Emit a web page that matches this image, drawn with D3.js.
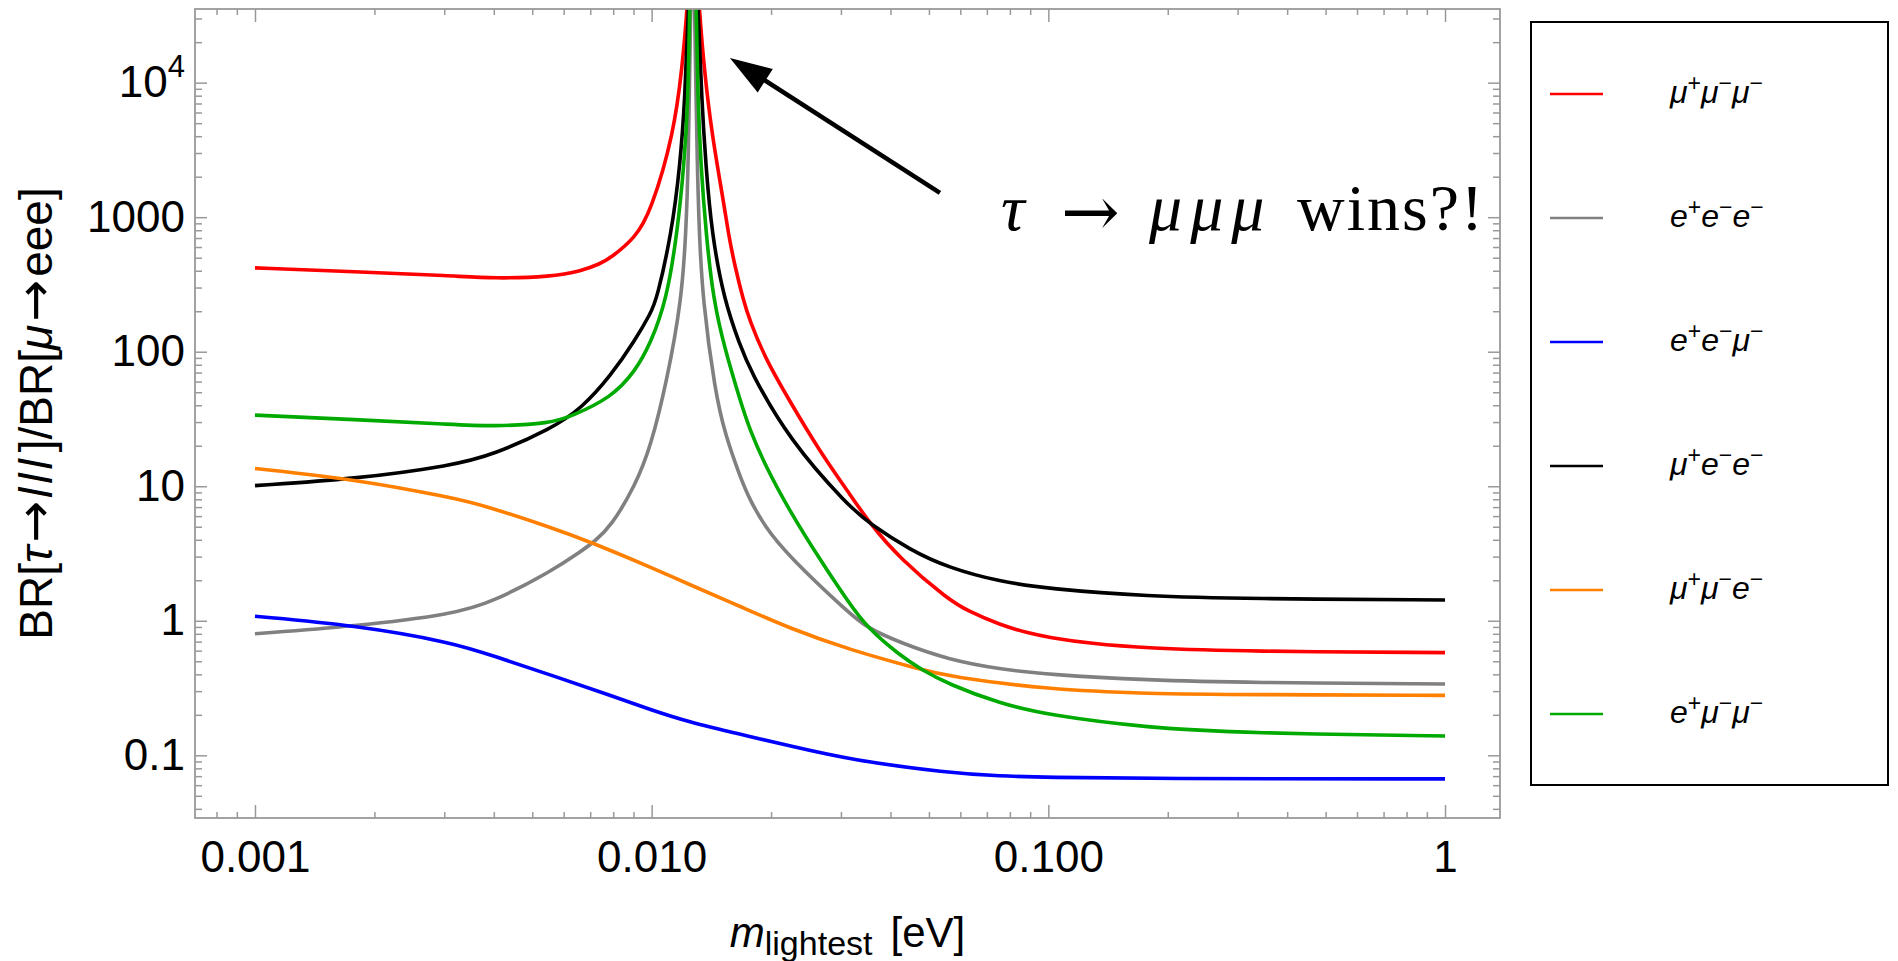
<!DOCTYPE html>
<html>
<head>
<meta charset="utf-8">
<script src="https://cdn.jsdelivr.net/npm/d3@7"></script>
<style>
  body { margin: 0; background: #fff; }
  svg { display: block; font-family: "Liberation Sans", Arial, sans-serif; }
</style>
</head>
<body>
<svg id="chart" width="1898" height="961"></svg>
<script>
// ---------------- data ----------------
const xMajorTicks = [0.001, 0.01, 0.1, 1];
const xTickLabels = ["0.001", "0.010", "0.100", "1"];
const yMajorTicks = [0.1, 1, 10, 100, 1000, 10000];
const yTickLabels = ["0.1", "1", "10", "100", "1000", "10^4"];

const seriesNames = ["μ+μ−μ−", "e+e−e−", "e+e−μ−", "μ+e−e−", "μ+μ−e−", "e+μ−μ−"];
const seriesColors = ["#ff0000", "#808080", "#0000ff", "#000000", "#ff8000", "#00aa00"];

// [m_lightest (eV), BR(tau->lll)/BR(mu->eee)]
const muMuMu = [[0.001,420],[0.001778,394],[0.003162,367],[0.003974,350],[0.00559,360],[0.006662,399],[0.007409,450],[0.007889,499],[0.009088,701],[0.00995,1094],[0.011381,4207],[0.011942,13150],[0.0123,35000],[0.0127,200000],[0.013183,35000],[0.013546,13150],[0.014167,4207],[0.015155,1343],[0.015601,760],[0.016218,430],[0.017019,243],[0.017673,169.7],[0.0193,90.1],[0.022182,43.9],[0.026573,18.04],[0.031404,8.95],[0.035506,5.27],[0.042275,2.89],[0.055993,1.435],[0.062736,1.181],[0.075549,0.932],[0.089415,0.807],[0.1,0.753],[0.12738,0.677],[0.17783,0.625],[0.31623,0.592],[1,0.580]];
const eee = [[0.001,0.80],[0.001778,0.91],[0.003162,1.12],[0.003974,1.38],[0.00559,2.336],[0.006662,3.31],[0.007163,3.87],[0.007889,5.0],[0.009088,10.09],[0.00995,19.66],[0.010942,61.8],[0.011901,243],[0.012201,764],[0.012372,2377],[0.012531,35000],[0.0127,200000],[0.012829,35000],[0.013028,2377],[0.013183,764],[0.013446,243],[0.014447,50.6],[0.015311,24.4],[0.016697,11.83],[0.017673,7.94],[0.0193,5.0],[0.022182,3.01],[0.031404,1.143],[0.035,0.884],[0.042275,0.688],[0.055993,0.514],[0.075549,0.437],[0.1,0.398],[0.17783,0.362],[0.31623,0.347],[1,0.339]];
const eeMu = [[0.001,1.08],[0.001778,0.929],[0.003162,0.688],[0.003974,0.55],[0.00559,0.394],[0.007889,0.278],[0.00995,0.218],[0.012399,0.177],[0.016697,0.1435],[0.022182,0.118],[0.031404,0.0929],[0.055993,0.074],[0.075549,0.070],[0.1,0.0686],[0.17783,0.0671],[1,0.0668]];
const muEE = [[0.001,10.1],[0.001778,11.3],[0.003162,14.3],[0.003974,17.1],[0.00559,26.8],[0.006662,38.0],[0.007889,66.4],[0.009088,122],[0.00995,194.5],[0.010294,243],[0.01123,764],[0.011784,2377],[0.012131,7430],[0.01237,35000],[0.0127,200000],[0.013114,35000],[0.013366,7430],[0.013706,2377],[0.014167,764],[0.015218,243],[0.016697,112],[0.017673,73.4],[0.022182,22.2],[0.031404,7.08],[0.035506,5.265],[0.04481,3.36],[0.055993,2.48],[0.075549,1.952],[0.1,1.731],[0.17783,1.517],[0.31623,1.459],[1,1.427]];
const muMuE = [[0.001,13.56],[0.001775,11.3],[0.003162,8.2],[0.003816,7.13],[0.00559,4.93],[0.007093,3.80],[0.009874,2.523],[0.012399,1.87],[0.016697,1.28],[0.022182,0.884],[0.031404,0.61],[0.047904,0.433],[0.055993,0.386],[0.1,0.308],[0.17783,0.287],[0.31623,0.2825],[1,0.279]];
const eMuMu = [[0.001,33.8],[0.001778,31.3],[0.003162,28.8],[0.003974,27.8],[0.00559,29.4],[0.006263,33.1],[0.007889,45.3],[0.009088,71.3],[0.00995,116],[0.010909,243],[0.0116,764],[0.012061,2377],[0.012365,7430],[0.012445,35000],[0.0127,200000],[0.012974,35000],[0.013073,7430],[0.013314,2377],[0.013706,764],[0.014298,243],[0.015311,103.3],[0.016697,43.9],[0.017673,26.3],[0.0193,14.44],[0.022182,6.69],[0.026573,2.844],[0.031404,1.363],[0.035,0.884],[0.042275,0.552],[0.047904,0.433],[0.055993,0.338],[0.075549,0.2425],[0.1,0.199],[0.17783,0.160],[0.31623,0.1464],[1,0.139]];
const seriesData = [muMuMu, eee, eeMu, muEE, muMuE, eMuMu];

// annotation anchors in data coordinates
const annotTip = [0.01575, 15260];
const annotTail = [0.0533, 1515];
const annotTextAt = [0.076, 805];

// ---------------- layout ----------------
const L = 195, R = 1500, T = 9, B = 818;
const svg = d3.select("#chart");
const x = d3.scaleLog().domain([7.06e-4, 1.376]).range([L, R]);
const y = d3.scaleLog().domain([0.0342, 35280]).range([B, T]);
const FRAME = "#999999";
const SANS = '"Liberation Sans", Arial, sans-serif';
const SERIF = '"Liberation Serif", "Times New Roman", serif';

svg.append("defs").append("clipPath").attr("id", "plotclip")
  .append("rect").attr("x", L).attr("y", T).attr("width", R - L).attr("height", B - T);

// ---------------- curves ----------------
const line = d3.line().x(d => x(d[0])).y(d => y(d[1])).curve(d3.curveBasis);
const plot = svg.append("g").attr("clip-path", "url(#plotclip)");
seriesData.forEach((data, i) => {
  plot.append("path").datum(data)
    .attr("d", line)
    .attr("fill", "none")
    .attr("stroke", seriesColors[i])
    .attr("stroke-width", 3.6)
    .attr("stroke-linejoin", "round");
});

// ---------------- frame & ticks ----------------
const xMinor = x.ticks().filter(v => !xMajorTicks.some(m => Math.abs(m - v) / m < 1e-9));
const yMinor = y.ticks().filter(v => !yMajorTicks.some(m => Math.abs(m - v) / m < 1e-9));

function styleAxis(sel) {
  sel.attr("font-family", SANS);
  sel.select(".domain").remove();
  sel.selectAll(".tick line").attr("stroke", FRAME).attr("stroke-width", 1.5);
  sel.selectAll(".tick text").attr("font-size", 44).attr("fill", "#000").attr("font-family", SANS);
}

// left
svg.append("g").attr("transform", `translate(${L},0)`)
  .call(d3.axisLeft(y).tickValues(yMajorTicks).tickSize(-12).tickPadding(10)
    .tickFormat((d, i) => yTickLabels[i])).call(styleAxis)
  .selectAll(".tick text").each(function(d, i) {
    const lab = yTickLabels[i];
    if (lab.includes("^")) {
      const [base, exp] = lab.split("^");
      const t = d3.select(this).text(null);
      t.append("tspan").text(base);
      t.append("tspan").attr("font-size", 31).attr("dy", -20).text(exp);
    }
  });
svg.append("g").attr("transform", `translate(${L},0)`)
  .call(d3.axisLeft(y).tickValues(yMinor).tickSize(-7).tickFormat("")).call(styleAxis);
// right
svg.append("g").attr("transform", `translate(${R},0)`)
  .call(d3.axisRight(y).tickValues(yMajorTicks).tickSize(-12).tickFormat("")).call(styleAxis);
svg.append("g").attr("transform", `translate(${R},0)`)
  .call(d3.axisRight(y).tickValues(yMinor).tickSize(-7).tickFormat("")).call(styleAxis);
// bottom
svg.append("g").attr("transform", `translate(0,${B})`)
  .call(d3.axisBottom(x).tickValues(xMajorTicks).tickSize(-13).tickPadding(23)
    .tickFormat((d, i) => xTickLabels[i])).call(styleAxis);
svg.append("g").attr("transform", `translate(0,${B})`)
  .call(d3.axisBottom(x).tickValues(xMinor).tickSize(-6).tickFormat("")).call(styleAxis);
// top
svg.append("g").attr("transform", `translate(0,${T})`)
  .call(d3.axisTop(x).tickValues(xMajorTicks).tickSize(-13).tickFormat("")).call(styleAxis);
svg.append("g").attr("transform", `translate(0,${T})`)
  .call(d3.axisTop(x).tickValues(xMinor).tickSize(-6).tickFormat("")).call(styleAxis);

svg.append("rect").attr("x", L).attr("y", T).attr("width", R - L).attr("height", B - T)
  .attr("fill", "none").attr("stroke", FRAME).attr("stroke-width", 1.8);

// ---------------- axis labels ----------------
const yl = svg.append("text")
  .attr("transform", `translate(52,${(T + B) / 2}) rotate(-90)`)
  .attr("text-anchor", "middle").attr("font-size", 46).attr("fill", "#000").attr("font-family", SANS);
[["BR[", false], ["τ", true], ["→", false], ["lll", true], ["]/BR[", false], ["μ", true], ["→", false], ["eee]", false]]
  .forEach(([s, it]) => {
    const ts = yl.append("tspan").attr("font-style", it ? "italic" : "normal").text(s);
    if (s === "→") ts.attr("font-family", '"DejaVu Sans", sans-serif').attr("font-size", 50).attr("dx", 3);
    if (s === "lll") ts.attr("letter-spacing", 4).attr("dx", 3);
    if (s === "eee]" || s === "]/BR[") ts.attr("dx", 3);
  });

const xl = svg.append("text")
  .attr("x", (L + R) / 2).attr("y", 947)
  .attr("text-anchor", "middle").attr("font-size", 42).attr("fill", "#000").attr("font-family", SANS);
xl.append("tspan").attr("font-style", "italic").text("m");
xl.append("tspan").attr("font-size", 34).attr("dy", 8).text("lightest");
xl.append("tspan").attr("dy", -8).attr("dx", 18).text("[eV]");

// ---------------- annotation ----------------
const tip = [x(annotTip[0]), y(annotTip[1])];
const tail = [x(annotTail[0]), y(annotTail[1])];
const dxA = tip[0] - tail[0], dyA = tip[1] - tail[1];
const len = Math.hypot(dxA, dyA);
const ux = dxA / len, uy = dyA / len;
const headL = 42, headW = 14;
const bx = tip[0] - ux * headL, by = tip[1] - uy * headL;
svg.append("line")
  .attr("x1", tail[0]).attr("y1", tail[1])
  .attr("x2", bx + ux * 4).attr("y2", by + uy * 4)
  .attr("stroke", "#000").attr("stroke-width", 4.5);
svg.append("path")
  .attr("d", `M${tip[0]},${tip[1]} L${bx - uy * headW},${by + ux * headW} L${bx + uy * headW},${by - ux * headW} Z`)
  .attr("fill", "#000");

const ax = x(annotTextAt[0]), ay = y(annotTextAt[1]);
const at = svg.append("text").attr("y", ay).attr("font-size", 66)
  .attr("font-family", SERIF).attr("fill", "#000");
at.append("tspan").attr("x", ax).attr("font-style", "italic").text("τ");
at.append("tspan").attr("x", ax + 60).attr("dy", 6).attr("font-family", '"DejaVu Serif", serif').attr("font-size", 70).text("→");
at.append("tspan").attr("x", ax + 148).attr("dy", -6).attr("font-style", "italic").attr("letter-spacing", 8).text("μμμ");
at.append("tspan").attr("x", ax + 296).attr("letter-spacing", 2).text("wins?!");

// ---------------- legend ----------------
const legX = 1531, legY = 22, legW = 357, legH = 763;
svg.append("rect").attr("x", legX).attr("y", legY).attr("width", legW).attr("height", legH)
  .attr("fill", "#fff").attr("stroke", "#000").attr("stroke-width", 2);
seriesNames.forEach((name, i) => {
  const cy = 94 + i * 124;
  svg.append("line").attr("x1", 1550).attr("x2", 1603).attr("y1", cy).attr("y2", cy)
    .attr("stroke", seriesColors[i]).attr("stroke-width", 2.6);
  const t = svg.append("text").attr("x", 1670).attr("y", cy + 9)
    .attr("font-size", 32).attr("font-style", "italic").attr("fill", "#000").attr("font-family", SANS);
  let raised = false;
  for (const ch of name) {
    if (ch === "+" || ch === "−") {
      t.append("tspan").attr("font-size", 23).attr("font-style", "normal")
        .attr("dy", raised ? 0 : -12).text(ch);
      raised = true;
    } else {
      t.append("tspan").attr("dy", raised ? 12 : 0).text(ch);
      raised = false;
    }
  }
});
</script>
</body>
</html>
